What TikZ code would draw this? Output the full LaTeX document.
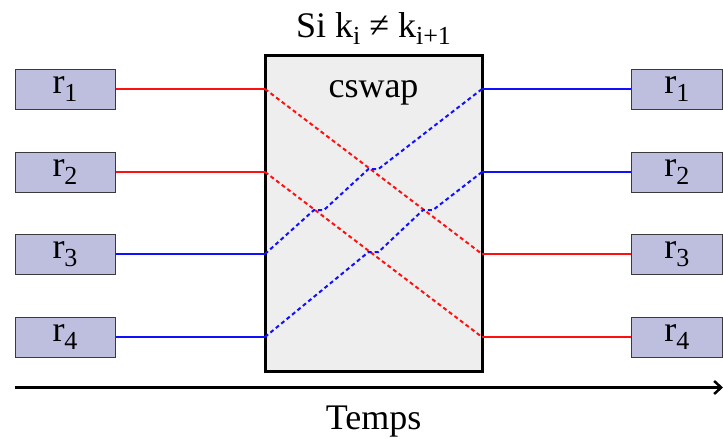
\documentclass[tikz,border=0pt]{standalone}
\usepackage{fontspec}
\setmainfont{Liberation Serif}
\usetikzlibrary{arrows.meta}
\definecolor{boxfill}{HTML}{BEBEDE}
\definecolor{boxline}{HTML}{3A3A3A}
\definecolor{swapfill}{HTML}{EEEEEE}
\definecolor{myred}{HTML}{FF1010}
\definecolor{myblue}{HTML}{1010FF}
\newcommand\mysub[1]{\raisebox{-0.22em}{\fontsize{26}{26}\selectfont #1}}
\newcommand\bigtxt{\fontsize{36}{42}\selectfont}
\begin{document}
\begin{tikzpicture}[x=1pt,y=-1pt,
  regbox/.style={draw=boxline,line width=1pt,fill=boxfill,minimum width=100pt,minimum height=40pt,inner sep=0pt,font=\bigtxt},
  rline/.style={myred,line width=2pt},
  bline/.style={myblue,line width=2pt},
  rdash/.style={myred,line width=2pt,dash pattern=on 4pt off 3pt},
  bdash/.style={myblue,line width=2pt,dash pattern=on 4pt off 3pt},
  lbl/.style={font=\bigtxt,inner sep=0pt,anchor=base}]
\useasboundingbox (0,0) rectangle (723,439);
% main box
\node[draw=black,line width=3pt,fill=swapfill,minimum width=217pt,minimum height=316pt,inner sep=0pt] (sw) at (373.5,213) {};
\node[lbl] (title) at (373.5,37) {Si k\mysub{i} ≠ k\mysub{i+1}};
\node[lbl] (cs) at (373.5,97) {cswap};
% registers
\node[regbox] (L1) at (65,89) {r\mysub{1}};
\node[regbox] (L2) at (65,172) {r\mysub{2}};
\node[regbox] (L3) at (65,254) {r\mysub{3}};
\node[regbox] (L4) at (65,337) {r\mysub{4}};
\node[regbox,minimum width=91.5pt] (R1) at (676.75,89) {r\mysub{1}};
\node[regbox,minimum width=91.5pt] (R2) at (676.75,172) {r\mysub{2}};
\node[regbox,minimum width=91.5pt] (R3) at (676.75,254) {r\mysub{3}};
\node[regbox,minimum width=91.5pt] (R4) at (676.75,337) {r\mysub{4}};
% entry/exit points
\coordinate (a1) at (265,89);
\coordinate (a2) at (265,172);
\coordinate (a3) at (265,254);
\coordinate (a4) at (265,337);
\coordinate (b1) at (482,89);
\coordinate (b2) at (482,172);
\coordinate (b3) at (482,254);
\coordinate (b4) at (482,337);
% solid parts
\draw[rline] (L1.east) -- (a1);
\draw[rline] (L2.east) -- (a2);
\draw[bline] (L3.east) -- (a3);
\draw[bline] (L4.east) -- (a4);
\draw[bline] (b1) -- (R1.west);
\draw[bline] (b2) -- (R2.west);
\draw[rline] (b3) -- (R3.west);
\draw[rline] (b4) -- (R4.west);
% dashed crossings
\draw[rdash] (a1) -- (b3);
\draw[rdash] (a2) -- (b4);
\draw[bdash] (a3) -- (314,210) -- (324,210) -- (368.5,169) -- (378.5,169) -- (b1);
\draw[bdash] (a4) -- (368.5,252) -- (378.5,252) -- (423,210) -- (433,210) -- (b2);
% time axis
\coordinate (t0) at (15,387.5);
\coordinate (t1) at (723,387.5);
\draw[line width=3pt,-{Straight Barb[length=7pt,width=13pt,line width=2.5pt]}] (t0) -- (t1);
\node[lbl] (temps) at (373.5,429) {Temps};
\end{tikzpicture}
\end{document}
